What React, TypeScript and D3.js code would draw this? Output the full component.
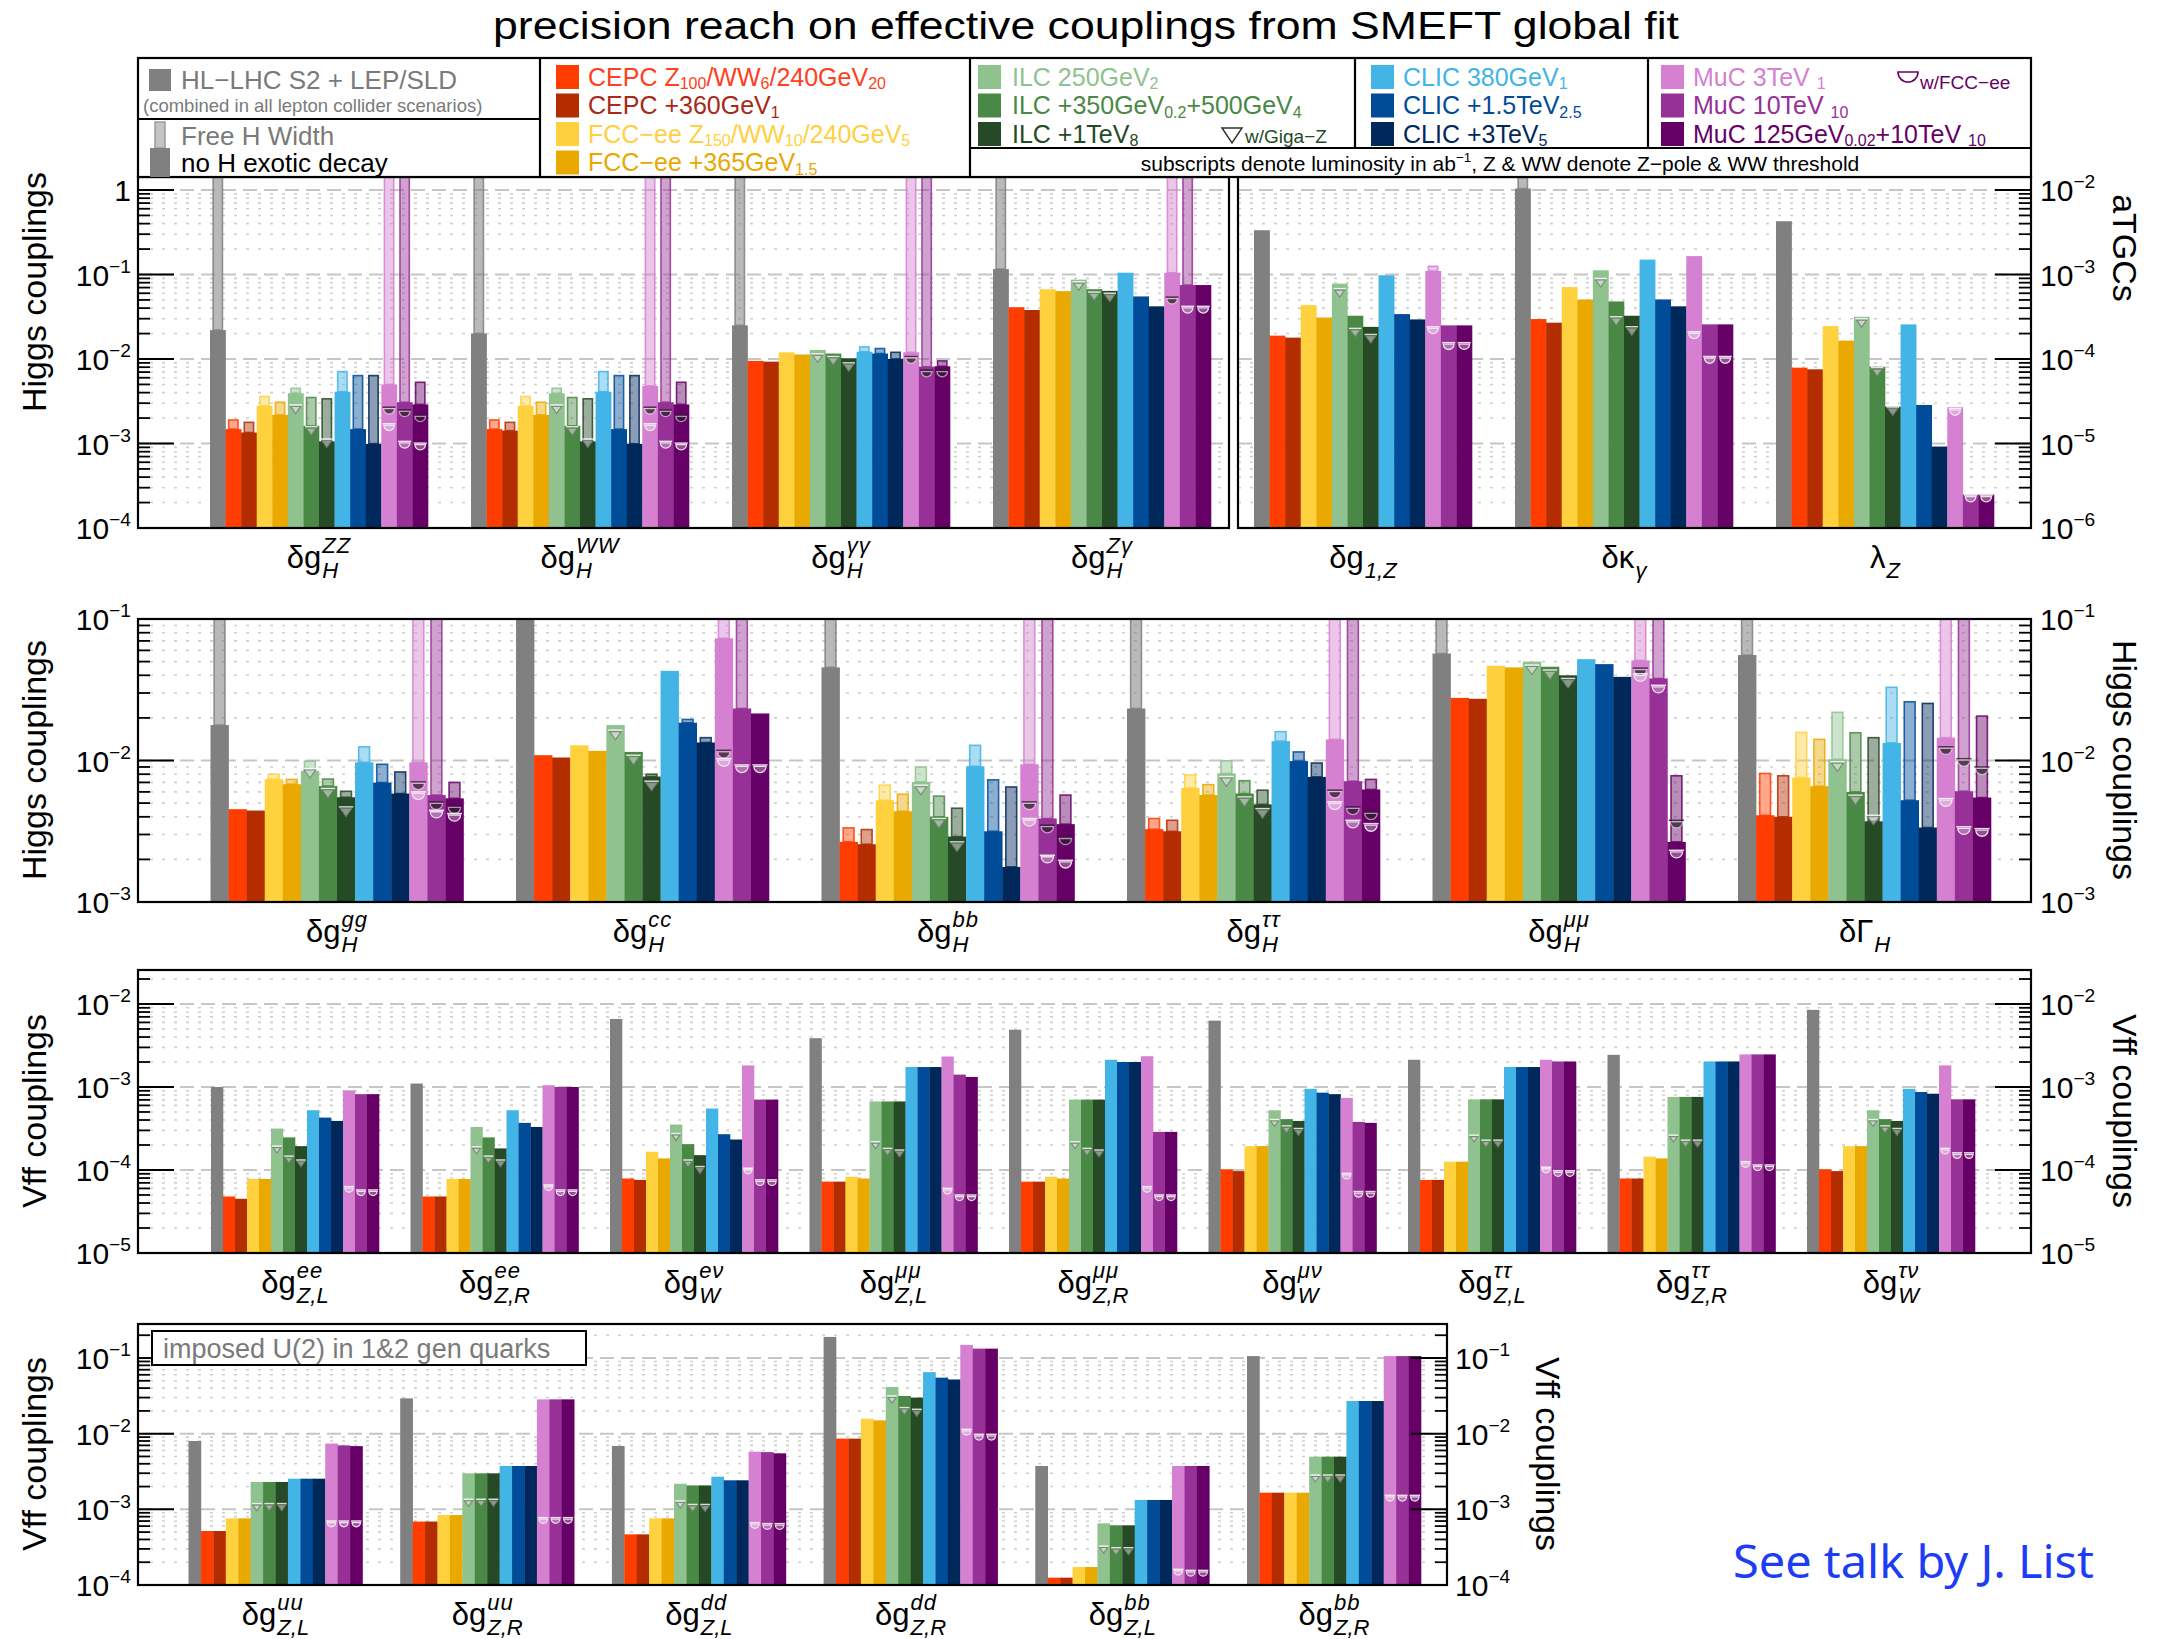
import React, { useEffect, useRef } from 'react';
import * as d3 from 'd3';

const W = 2157;
const H = 1639;
const FONT = "'Liberation Sans', Arial, Helvetica, sans-serif";
const OFF = 10; // free-width bars that run past the top of their panel
const N = null;

// Series order: HL-LHC, CEPC, CEPC+360, FCC-ee, FCC-ee+365, ILC 250, ILC +350/500, ILC +1TeV,
// CLIC 380, CLIC +1.5TeV, CLIC +3TeV, MuC 3TeV, MuC 10TeV, MuC 125GeV+10TeV
const seriesColors = [
  '#808080', '#ff3d00', '#b32d00', '#ffd13f', '#e9a901', '#8fc28f', '#4a8845',
  '#254a25', '#42b4e6', '#004c99', '#00285a', '#d580d0', '#973097', '#670066',
];
const ILC_IDX = [5, 6, 7];
const MUC_IDX = [11, 12, 13];

type Lab = [string, string, string]; // symbol, superscript, subscript

// ---------- Higgs couplings and aTGCs ----------
const p1Labels: Lab[] = [
  ['δg', 'ZZ', 'H'], ['δg', 'WW', 'H'], ['δg', 'γγ', 'H'], ['δg', 'Zγ', 'H'],
  ['δg', '', '1,Z'], ['δκ', '', 'γ'], ['λ', '', 'Z'],
];
const p1Main = [
  [0.022, 1.48e-3, 1.35e-3, 2.79e-3, 2.18e-3, 3.93e-3, 1.62e-3, 1.06e-3, 4.1e-3, 1.48e-3, 9.9e-4, 5.0e-3, 3.08e-3, 2.9e-3],
  [0.0201, 1.48e-3, 1.42e-3, 2.79e-3, 2.18e-3, 3.93e-3, 1.62e-3, 1.06e-3, 4.1e-3, 1.48e-3, 9.9e-4, 4.8e-3, 3.08e-3, 2.9e-3],
  [0.025, 9.5e-3, 9.3e-3, 0.012, 0.0113, 0.0128, 0.0116, 0.0102, 0.0122, 0.0116, 0.0100, 0.012, 0.0081, 0.0082],
  [0.116, 0.041, 0.038, 0.067, 0.0635, 0.087, 0.067, 0.064, 0.105, 0.055, 0.042, 0.105, 0.075, 0.075],
  [3.34e-3, 1.89e-4, 1.79e-4, 4.34e-4, 3.1e-4, 7.8e-4, 3.25e-4, 2.4e-4, 9.8e-4, 3.4e-4, 2.94e-4, 1.1e-3, 2.5e-4, 2.5e-4],
  [1.04e-2, 2.97e-4, 2.69e-4, 7.1e-4, 5.07e-4, 1.12e-3, 4.8e-4, 3.25e-4, 1.5e-3, 5.07e-4, 4.2e-4, 1.65e-3, 2.57e-4, 2.57e-4],
  [4.27e-3, 7.9e-5, 7.55e-5, 2.45e-4, 1.65e-4, 3.16e-4, 8.1e-5, 2.73e-5, 2.57e-4, 2.86e-5, 9.2e-6, 2.69e-5, 2.48e-6, 2.48e-6],
];
const p1Free = [
  [OFF, 1.9e-3, 1.78e-3, 3.6e-3, 3.08e-3, 4.5e-3, 3.5e-3, 3.38e-3, 7.1e-3, 6.36e-3, 6.36e-3, OFF, OFF, 5.3e-3],
  [OFF, 1.9e-3, 1.78e-3, 3.6e-3, 3.08e-3, 4.5e-3, 3.5e-3, 3.38e-3, 7.1e-3, 6.36e-3, 6.36e-3, OFF, OFF, 5.3e-3],
  [OFF, N, N, N, N, N, N, N, 0.0139, 0.0133, 0.012, OFF, OFF, 0.0095],
  [OFF, N, N, N, N, N, N, N, N, N, N, OFF, OFF, N],
  [N, N, N, N, N, N, N, N, N, N, N, 1.25e-3, N, N],
  [OFF, N, N, N, N, N, N, N, N, N, N, N, N, N],
  [N, N, N, N, N, N, N, N, N, N, N, N, N, N],
];
const p1GigaZ = [
  [2.86e-3, 1.58e-3, 1.13e-3], [2.86e-3, 1.58e-3, 1.13e-3], [0.0115, 0.0107, 9.0e-3], [0.082, 0.062, 0.06],
  [6.8e-4, 2.3e-4, 1.95e-4], [8.97e-4, 3.16e-4, 2.41e-4], [3.0e-4, 7.9e-5, 2.7e-5],
];
const p1FccDark = [
  [2.69e-3, 2.5e-3, 2.18e-3], [2.69e-3, 2.5e-3, 2.18e-3], [0.0107, 7.4e-3, 7.4e-3], [0.054, N, N],
  [N, N, N], [N, N, N], [N, N, N],
];
const p1FccLight = [
  [1.71e-3, 1.06e-3, 1.01e-3], [1.71e-3, 1.06e-3, 1.01e-3], [N, N, N], [N, 0.042, 0.042],
  [2.4e-4, 1.56e-4, 1.56e-4], [2.1e-4, 1.07e-4, 1.07e-4], [2.6e-5, 2.45e-6, 2.45e-6],
];

// ---------- Higgs couplings (Yukawa, gluon, width) ----------
const p2Labels: Lab[] = [
  ['δg', 'gg', 'H'], ['δg', 'cc', 'H'], ['δg', 'bb', 'H'], ['δg', 'ττ', 'H'], ['δg', 'μμ', 'H'], ['δΓ', '', 'H'],
];
const p2Main = [
  [0.0178, 4.53e-3, 4.43e-3, 7.38e-3, 6.8e-3, 8.45e-3, 6.6e-3, 5.5e-3, 9.7e-3, 6.98e-3, 5.84e-3, 9.7e-3, 5.7e-3, 5.4e-3],
  [0.105, 0.0109, 0.0105, 0.0128, 0.0117, 0.0178, 0.0115, 7.7e-3, 0.043, 0.0185, 0.0134, 0.073, 0.0233, 0.0215],
  [0.0455, 2.66e-3, 2.56e-3, 5.24e-3, 4.38e-3, 7.06e-3, 4.0e-3, 2.9e-3, 9.1e-3, 3.16e-3, 1.77e-3, 9.4e-3, 3.89e-3, 3.55e-3],
  [0.0233, 3.27e-3, 3.16e-3, 6.4e-3, 5.7e-3, 8.1e-3, 5.84e-3, 4.9e-3, 0.0137, 9.9e-3, 7.66e-3, 0.0141, 7.14e-3, 6.24e-3],
  [0.057, 0.0277, 0.0273, 0.0467, 0.0455, 0.05, 0.046, 0.04, 0.052, 0.048, 0.039, 0.051, 0.038, 2.66e-3],
  [0.0556, 4.1e-3, 4.0e-3, 7.58e-3, 6.58e-3, 0.0102, 6.0e-3, 3.72e-3, 0.0133, 5.24e-3, 3.36e-3, 0.0145, 6.07e-3, 5.47e-3],
];
const p2Free = [
  [OFF, N, N, 8.0e-3, 7.35e-3, 9.9e-3, 7.4e-3, 6.06e-3, 0.0125, 9.4e-3, 8.3e-3, OFF, OFF, 7.0e-3],
  [N, N, N, N, N, N, N, 8.0e-3, N, 0.0195, 0.0145, OFF, OFF, N],
  [OFF, 3.34e-3, 3.25e-3, 6.7e-3, 5.78e-3, 9.0e-3, 5.6e-3, 4.6e-3, 0.0128, 7.3e-3, 6.5e-3, OFF, OFF, 5.7e-3],
  [OFF, 3.89e-3, 3.78e-3, 7.9e-3, 6.75e-3, 9.95e-3, 7.2e-3, 6.17e-3, 0.016, 0.0115, 9.6e-3, OFF, OFF, 7.35e-3],
  [OFF, N, N, N, N, N, N, N, N, N, N, OFF, OFF, 7.8e-3],
  [OFF, 8.1e-3, 7.8e-3, 0.0158, 0.0141, 0.0219, 0.0157, 0.0145, 0.0329, 0.026, 0.0253, OFF, OFF, 0.0206],
];
const p2GigaZ = [
  [8.78e-3, 6.34e-3, 4.7e-3], [0.0164, 0.0109, 7.14e-3], [6.69e-3, 3.89e-3, 2.66e-3],
  [7.7e-3, 5.53e-3, 4.57e-3], [0.0473, 0.0436, 0.038], [9.8e-3, 5.69e-3, 4.1e-3],
];
const p2FccDark = [
  [7.06e-3, 5.1e-3, 4.78e-3], [0.0118, N, N], [5.1e-3, 3.49e-3, 2.88e-3],
  [6.17e-3, 4.7e-3, 4.33e-3], [0.045, N, 3.78e-3], [0.0125, 0.0103, 9.0e-3],
];
const p2FccLight = [
  [6.0e-3, 4.45e-3, 4.22e-3], [0.0103, 9.3e-3, 9.3e-3], [3.89e-3, 2.14e-3, 1.97e-3],
  [5.1e-3, 3.78e-3, 3.58e-3], [0.041, 0.034, 2.32e-3], [5.38e-3, 3.4e-3, 3.3e-3],
];

// ---------- lepton Vff couplings ----------
const p3Labels: Lab[] = [
  ['δg', 'ee', 'Z,L'], ['δg', 'ee', 'Z,R'], ['δg', 'eν', 'W'], ['δg', 'μμ', 'Z,L'], ['δg', 'μμ', 'Z,R'],
  ['δg', 'μν', 'W'], ['δg', 'ττ', 'Z,L'], ['δg', 'ττ', 'Z,R'], ['δg', 'τν', 'W'],
];
const p3Main = [
  [1.0e-3, 4.8e-5, 4.5e-5, 7.8e-5, 7.8e-5, 3.16e-4, 2.47e-4, 1.94e-4, 5.25e-4, 4.28e-4, 3.9e-4, 9.1e-4, 8.2e-4, 8.2e-4],
  [1.1e-3, 4.8e-5, 4.8e-5, 7.8e-5, 7.8e-5, 3.3e-4, 2.47e-4, 1.82e-4, 5.25e-4, 3.7e-4, 3.3e-4, 1.05e-3, 1.0e-3, 1.0e-3],
  [6.6e-3, 7.9e-5, 7.6e-5, 1.66e-4, 1.38e-4, 3.53e-4, 2.05e-4, 1.51e-4, 5.5e-4, 2.7e-4, 2.33e-4, 1.82e-3, 7.05e-4, 7.05e-4],
  [3.87e-3, 7.24e-5, 7.24e-5, 8.3e-5, 7.9e-5, 6.7e-4, 6.7e-4, 6.7e-4, 1.74e-3, 1.74e-3, 1.74e-3, 2.33e-3, 1.41e-3, 1.32e-3],
  [4.9e-3, 7.24e-5, 7.24e-5, 8.3e-5, 7.9e-5, 7.05e-4, 7.05e-4, 7.05e-4, 2.13e-3, 2.0e-3, 2.0e-3, 2.35e-3, 2.88e-4, 2.88e-4],
  [6.3e-3, 1.02e-4, 9.7e-5, 1.94e-4, 1.94e-4, 5.25e-4, 4.1e-4, 3.9e-4, 9.5e-4, 8.55e-4, 8.2e-4, 7.4e-4, 3.8e-4, 3.7e-4],
  [2.13e-3, 7.6e-5, 7.6e-5, 1.26e-4, 1.26e-4, 7.1e-4, 7.1e-4, 7.1e-4, 1.74e-3, 1.74e-3, 1.74e-3, 2.13e-3, 2.03e-3, 2.03e-3],
  [2.44e-3, 7.9e-5, 7.9e-5, 1.45e-4, 1.38e-4, 7.6e-4, 7.6e-4, 7.6e-4, 2.03e-3, 2.03e-3, 2.03e-3, 2.47e-3, 2.47e-3, 2.47e-3],
  [8.5e-3, 1.02e-4, 9.7e-5, 1.94e-4, 1.94e-4, 5.25e-4, 4.1e-4, 3.9e-4, 9.5e-4, 8.7e-4, 8.3e-4, 1.82e-3, 7.1e-4, 7.1e-4],
];
const p3GigaZ = [
  [1.94e-4, 1.47e-4, 1.32e-4], [1.9e-4, 1.47e-4, 1.32e-4], [2.75e-4, 1.32e-4, 1.1e-4],
  [2.19e-4, 1.82e-4, 1.74e-4], [2.19e-4, 1.82e-4, 1.74e-4], [4.06e-4, 3.4e-4, 3.16e-4],
  [2.63e-4, 2.29e-4, 2.29e-4], [2.63e-4, 2.29e-4, 2.29e-4], [4.06e-4, 3.4e-4, 3.16e-4],
];
const p3Fcc = [
  [6.3e-5, 5.75e-5, 5.75e-5], [6.6e-5, 5.75e-5, 5.75e-5], [1.05e-4, 7.6e-5, 7.6e-5],
  [6.0e-5, 5.0e-5, 5.0e-5], [6.3e-5, 5.0e-5, 5.0e-5], [9.1e-5, 5.5e-5, 5.5e-5],
  [1.08e-4, 9.8e-5, 9.8e-5], [1.26e-4, 1.15e-4, 1.15e-4], [1.82e-4, 1.61e-4, 1.61e-4],
];

// ---------- quark Vff couplings ----------
const p4Labels: Lab[] = [
  ['δg', 'uu', 'Z,L'], ['δg', 'uu', 'Z,R'], ['δg', 'dd', 'Z,L'], ['δg', 'dd', 'Z,R'], ['δg', 'bb', 'Z,L'], ['δg', 'bb', 'Z,R'],
];
const p4Main = [
  [8.0e-3, 5.17e-4, 5.17e-4, 7.6e-4, 7.6e-4, 2.3e-3, 2.3e-3, 2.3e-3, 2.54e-3, 2.54e-3, 2.54e-3, 7.4e-3, 7.0e-3, 6.85e-3],
  [2.93e-2, 6.9e-4, 6.9e-4, 8.4e-4, 8.4e-4, 2.99e-3, 2.99e-3, 2.99e-3, 3.74e-3, 3.74e-3, 3.74e-3, 2.84e-2, 2.84e-2, 2.84e-2],
  [6.87e-3, 4.67e-4, 4.67e-4, 7.6e-4, 7.6e-4, 2.18e-3, 2.07e-3, 2.07e-3, 2.7e-3, 2.42e-3, 2.42e-3, 5.78e-3, 5.7e-3, 5.5e-3],
  [0.19, 8.6e-3, 8.6e-3, 0.0158, 0.015, 0.0414, 0.0315, 0.03, 0.065, 0.055, 0.052, 0.149, 0.133, 0.133],
  [3.74e-3, 1.25e-4, 1.25e-4, 1.73e-4, 1.73e-4, 6.53e-4, 6.15e-4, 6.15e-4, 1.33e-3, 1.33e-3, 1.33e-3, 3.74e-3, 3.74e-3, 3.74e-3],
  [0.106, 1.66e-3, 1.66e-3, 1.66e-3, 1.66e-3, 4.97e-3, 4.97e-3, 4.97e-3, 2.7e-2, 2.7e-2, 2.7e-2, 0.106, 0.106, 0.106],
];
const p4GigaZ = [
  [1.19e-3, 1.19e-3, 1.19e-3], [1.36e-3, 1.36e-3, 1.36e-3], [1.29e-3, 1.16e-3, 1.16e-3],
  [0.0315, 0.0221, 0.021], [3.27e-4, 3.11e-4, 3.11e-4], [2.84e-3, 2.84e-3, 2.84e-3],
];
const p4Fcc = [
  [7.0e-4, 7.0e-4, 7.0e-4], [7.76e-4, 7.76e-4, 7.76e-4], [6.67e-4, 6.47e-4, 6.47e-4],
  [0.0114, 9.8e-3, 9.8e-3], [1.61e-4, 1.56e-4, 1.56e-4], [1.53e-3, 1.53e-3, 1.53e-3],
];

// ---------- legend text ----------
type Seg = [string, '' | 'sub' | 'sup'];
const legendCepcFcc: Seg[][] = [
  [['CEPC Z', ''], ['100', 'sub'], ['/WW', ''], ['6', 'sub'], ['/240GeV', ''], ['20', 'sub']],
  [['CEPC +360GeV', ''], ['1', 'sub']],
  [['FCC−ee Z', ''], ['150', 'sub'], ['/WW', ''], ['10', 'sub'], ['/240GeV', ''], ['5', 'sub']],
  [['FCC−ee +365GeV', ''], ['1.5', 'sub']],
];
const legendCepcFccText = ['#ff4020', '#a8281a', '#ffd040', '#e8a800'];
const legendIlc: Seg[][] = [
  [['ILC 250GeV', ''], ['2', 'sub']],
  [['ILC +350GeV', ''], ['0.2', 'sub'], ['+500GeV', ''], ['4', 'sub']],
  [['ILC +1TeV', ''], ['8', 'sub']],
];
const legendClic: Seg[][] = [
  [['CLIC 380GeV', ''], ['1', 'sub']],
  [['CLIC +1.5TeV', ''], ['2.5', 'sub']],
  [['CLIC +3TeV', ''], ['5', 'sub']],
];
const legendMuc: Seg[][] = [
  [['MuC 3TeV ', ''], ['1', 'sub']],
  [['MuC 10TeV ', ''], ['10', 'sub']],
  [['MuC 125GeV', ''], ['0.02', 'sub'], ['+10TeV ', ''], ['10', 'sub']],
];

type Sel = d3.Selection<any, any, any, any>;

function rich(sel: Sel, x: number, y: number, segs: Seg[], size: number, fill: string, anchor = 'start', subDrop = 0.28) {
  const t = sel.append('text').attr('x', x).attr('y', y).attr('font-size', size)
    .attr('fill', fill).attr('text-anchor', anchor);
  let cur = 0;
  for (const [s, k] of segs) {
    const off = k === 'sub' ? size * subDrop : k === 'sup' ? -size * 0.42 : 0;
    const ts = t.append('tspan').attr('dy', off - cur).text(s);
    if (k) ts.attr('font-size', size * 0.64);
    cur = off;
  }
  return t;
}

function expLabel(e: number): Seg[] {
  if (e === 0) return [['1', '']];
  return [['10', ''], [(e < 0 ? '−' : '') + Math.abs(e), 'sup']];
}

function logValues(lo: number, hi: number) {
  const major: number[] = [];
  const minor: number[] = [];
  for (let e = Math.floor(Math.log10(lo)) - 1; e <= Math.ceil(Math.log10(hi)); e++) {
    for (let k = 1; k < 10; k++) {
      const v = k * Math.pow(10, e);
      if (v < lo * 0.999 || v > hi * 1.001) continue;
      (k === 1 ? major : minor).push(v);
    }
  }
  return { major, minor };
}

function gigaMark(g: Sel, cx: number, yv: number, w: number) {
  const hw = w * 0.32;
  const h = w * 0.45;
  g.append('line').attr('x1', cx - w * 0.4).attr('x2', cx + w * 0.4).attr('y1', yv).attr('y2', yv)
    .attr('stroke', 'rgba(255,255,255,0.8)').attr('stroke-width', 1.5);
  g.append('path').attr('d', `M${cx - hw},${yv + 1.5}L${cx + hw},${yv + 1.5}L${cx},${yv + 1.5 + h}Z`)
    .attr('fill', 'rgba(255,255,255,0.45)').attr('stroke', 'rgba(120,120,120,0.85)').attr('stroke-width', 1.1);
}

function fccMark(g: Sel, cx: number, yv: number, w: number, dark: boolean) {
  const r = w * 0.34;
  g.append('line').attr('x1', cx - w * 0.42).attr('x2', cx + w * 0.42).attr('y1', yv).attr('y2', yv)
    .attr('stroke', dark ? 'rgba(40,30,40,0.8)' : 'rgba(255,255,255,0.85)').attr('stroke-width', 1.5);
  g.append('path').attr('d', `M${cx - r},${yv + 1.5}A${r},${r} 0 0 0 ${cx + r},${yv + 1.5}Z`)
    .attr('fill', dark ? 'rgba(45,30,45,0.75)' : 'rgba(255,255,255,0.3)')
    .attr('stroke', dark ? 'rgba(255,255,255,0.55)' : 'rgba(235,235,235,0.95)').attr('stroke-width', 1.3);
}

function groupLabel(g: Sel, cx: number, bottom: number, lab: Lab) {
  const [sym, sup, sub] = lab;
  const base = bottom + 40;
  const m = g.append('text').attr('y', base).attr('font-size', 31).text(sym);
  const mw = (m.node() as SVGTextElement).getComputedTextLength();
  let sw = 0;
  let bw = 0;
  let sp: Sel | null = null;
  let sb: Sel | null = null;
  if (sup) {
    sp = g.append('text').attr('y', base - 15).attr('font-size', 22).attr('font-style', 'italic')
      .attr('letter-spacing', 1).text(sup);
    sw = (sp.node() as SVGTextElement).getComputedTextLength();
  }
  if (sub) {
    sb = g.append('text').attr('y', base + 10).attr('font-size', 22).attr('font-style', 'italic').text(sub);
    bw = (sb.node() as SVGTextElement).getComputedTextLength();
  }
  const total = mw + 1 + Math.max(sw, bw);
  const x0 = cx - total / 2;
  m.attr('x', x0);
  if (sp) sp.attr('x', x0 + mw + 1);
  if (sb) sb.attr('x', x0 + mw + 1);
}

interface Box { x0: number; x1: number; y: d3.ScaleLogarithmic<number, number>; }
interface PanelOpt {
  id: string;
  top: number;
  bottom: number;
  boxes: Box[];
  boxOf: (gi: number) => number;
  labels: Lab[];
  main: number[][];
  free?: (number | null)[][];
  giga: (number | null)[][];
  fccDark?: (number | null)[][];
  fccLight: (number | null)[][];
  range: [number, number];
  band: number;
  leftBox: number;
  rightBox: number;
  rightLabelX: number;
}

function drawPanel(svg: Sel, o: PanelOpt) {
  const g = svg.append('g');
  const defs = svg.select('defs');
  const n = o.labels.length;

  // clip paths, grids
  o.boxes.forEach((b, bi) => {
    defs.append('clipPath').attr('id', `${o.id}-clip${bi}`).append('rect')
      .attr('x', b.x0).attr('y', o.top).attr('width', b.x1 - b.x0).attr('height', o.bottom - o.top);
    const lo = b.y.invert(o.bottom);
    const hi = b.y.invert(o.top);
    const { major, minor } = logValues(lo, hi);
    const gg = g.append('g');
    minor.forEach((v) => {
      gg.append('line').attr('x1', b.x0).attr('x2', b.x1).attr('y1', b.y(v)).attr('y2', b.y(v))
        .attr('stroke', '#cfcfcf').attr('stroke-width', 1.6).attr('stroke-dasharray', '3,9');
    });
    major.forEach((v) => {
      gg.append('line').attr('x1', b.x0).attr('x2', b.x1).attr('y1', b.y(v)).attr('y2', b.y(v))
        .attr('stroke', '#c6c6c6').attr('stroke-width', 2).attr('stroke-dasharray', '14,7');
    });
  });

  const step = (o.range[1] - o.range[0]) / n;
  const pad = 1 - o.band / step;
  const x = d3.scaleBand<number>().domain(d3.range(n)).range(o.range).paddingInner(pad).paddingOuter(pad / 2);
  const inner = d3.scaleBand<number>().domain(d3.range(14)).range([0, x.bandwidth()]);
  const bw = inner.bandwidth();

  for (let gi = 0; gi < n; gi++) {
    const bi = o.boxOf(gi);
    const y = o.boxes[bi].y;
    const bars = g.append('g').attr('clip-path', `url(#${o.id}-clip${bi})`);
    const gx = x(gi) as number;
    for (let si = 0; si < 14; si++) {
      const v = o.main[gi][si];
      const fv = o.free ? o.free[gi][si] : null;
      const bx = gx + (inner(si) as number);
      const col = seriesColors[si];
      if (fv != null && fv > v) {
        const ew = bw * 0.6;
        bars.append('rect').attr('x', bx + (bw - ew) / 2).attr('y', y(fv)).attr('width', ew)
          .attr('height', Math.max(0, y(v) - y(fv)))
          .attr('fill', col).attr('fill-opacity', si === 0 ? 0.55 : 0.45)
          .attr('stroke', col).attr('stroke-opacity', 0.85).attr('stroke-width', 1.6);
      }
      bars.append('rect').attr('x', bx).attr('y', y(v)).attr('width', bw + 0.3)
        .attr('height', o.bottom - y(v)).attr('fill', col);
    }
    const cxOf = (si: number) => gx + (inner(si) as number) + bw / 2;
    ILC_IDX.forEach((si, k) => {
      const mv = o.giga[gi][k];
      if (mv != null) gigaMark(bars, cxOf(si), y(mv), bw);
    });
    MUC_IDX.forEach((si, k) => {
      const dv = o.fccDark ? o.fccDark[gi][k] : null;
      if (dv != null) fccMark(bars, cxOf(si), y(dv), bw, true);
      const lv = o.fccLight[gi][k];
      if (lv != null) fccMark(bars, cxOf(si), y(lv), bw, false);
    });
    groupLabel(g, gx + x.bandwidth() / 2, o.bottom, o.labels[gi]);
  }

  // frames
  o.boxes.forEach((b) => {
    g.append('rect').attr('x', b.x0).attr('y', o.top).attr('width', b.x1 - b.x0).attr('height', o.bottom - o.top)
      .attr('fill', 'none').attr('stroke', '#000').attr('stroke-width', 2.2);
  });

  // axes
  const axis = (b: Box, side: 'left' | 'right') => {
    const xf = side === 'left' ? b.x0 : b.x1;
    const dir = side === 'left' ? 1 : -1;
    const { major, minor } = logValues(b.y.invert(o.bottom), b.y.invert(o.top));
    minor.forEach((v) => {
      g.append('line').attr('x1', xf).attr('x2', xf + dir * 12).attr('y1', b.y(v)).attr('y2', b.y(v))
        .attr('stroke', '#000').attr('stroke-width', 1.8);
    });
    major.forEach((v) => {
      g.append('line').attr('x1', xf).attr('x2', xf + dir * 36).attr('y1', b.y(v)).attr('y2', b.y(v))
        .attr('stroke', '#000').attr('stroke-width', 2);
      const e = Math.round(Math.log10(v));
      if (side === 'left') rich(g, 131, b.y(v) + 11, expLabel(e), 30, '#000', 'end');
      else rich(g, o.rightLabelX, b.y(v) + 11, expLabel(e), 30, '#000', 'start');
    });
  };
  axis(o.boxes[o.leftBox], 'left');
  axis(o.boxes[o.rightBox], 'right');
}

function drawLegend(svg: Sel) {
  const g = svg.append('g');
  const top = 58;
  const bot = 177;
  const rows = [77, 105.5, 134, 162.5];
  const base = (r: number) => rows[r] + 8.5;
  const LS = 25;
  g.append('rect').attr('x', 138).attr('y', top).attr('width', 2031 - 138).attr('height', bot - top)
    .attr('fill', '#fff').attr('stroke', '#000').attr('stroke-width', 2.2);
  [540, 970].forEach((xv) => g.append('line').attr('x1', xv).attr('x2', xv).attr('y1', top).attr('y2', bot)
    .attr('stroke', '#000').attr('stroke-width', 2.2));
  [1355, 1648].forEach((xv) => g.append('line').attr('x1', xv).attr('x2', xv).attr('y1', top).attr('y2', 148)
    .attr('stroke', '#000').attr('stroke-width', 2.2));
  g.append('line').attr('x1', 138).attr('x2', 540).attr('y1', 119).attr('y2', 119).attr('stroke', '#000').attr('stroke-width', 2.2);
  g.append('line').attr('x1', 970).attr('x2', 2031).attr('y1', 148).attr('y2', 148).attr('stroke', '#000').attr('stroke-width', 2.2);

  // HL-LHC block
  g.append('rect').attr('x', 149).attr('y', 69).attr('width', 22).attr('height', 22).attr('fill', seriesColors[0]);
  g.append('text').attr('x', 181).attr('y', 89).attr('font-size', 26).attr('fill', '#7a7a7a').text('HL−LHC S2 + LEP/SLD');
  g.append('text').attr('x', 143).attr('y', 112).attr('font-size', 18.5).attr('fill', '#7a7a7a')
    .text('(combined in all lepton collider scenarios)');
  g.append('rect').attr('x', 155).attr('y', 122).attr('width', 10).attr('height', 26)
    .attr('fill', '#c4c4c4').attr('stroke', '#9a9a9a').attr('stroke-width', 1.5);
  g.append('rect').attr('x', 150).attr('y', 148).attr('width', 20).attr('height', 29).attr('fill', seriesColors[0]);
  g.append('text').attr('x', 181).attr('y', 145).attr('font-size', 26).attr('fill', '#7a7a7a').text('Free H Width');
  g.append('text').attr('x', 181).attr('y', 172).attr('font-size', 26).attr('fill', '#000').text('no H exotic decay');

  const block = (sx: number, tx: number, entries: Seg[][], idx: number[], txtCols: string[]) => {
    entries.forEach((segs, r) => {
      g.append('rect').attr('x', sx).attr('y', rows[r] - 12).attr('width', 23).attr('height', 24).attr('fill', seriesColors[idx[r]]);
      rich(g, tx, base(r), segs, LS, txtCols[r], 'start', 0.15);
    });
  };
  block(556, 588, legendCepcFcc, [1, 2, 3, 4], legendCepcFccText);
  block(978, 1012, legendIlc, [5, 6, 7], [seriesColors[5], seriesColors[6], seriesColors[7]]);
  block(1371, 1403, legendClic, [8, 9, 10], [seriesColors[8], seriesColors[9], seriesColors[10]]);
  block(1661, 1693, legendMuc, [11, 12, 13], [seriesColors[11], seriesColors[12], seriesColors[13]]);

  // marker keys
  g.append('path').attr('d', 'M1222,128L1242,128L1232,143Z').attr('fill', 'none').attr('stroke', '#333').attr('stroke-width', 1.5);
  g.append('text').attr('x', 1245).attr('y', 143).attr('font-size', 19).attr('fill', '#254a25').text('w/Giga−Z');
  g.append('path').attr('d', 'M1898,72L1918,72A10,10 0 0 1 1898,72Z').attr('fill', 'none').attr('stroke', '#670066').attr('stroke-width', 1.6);
  g.append('text').attr('x', 1920).attr('y', 89).attr('font-size', 19).attr('fill', '#670066').text('w/FCC−ee');

  rich(g, 1500, 171, [['subscripts denote luminosity in ab', ''], ['−1', 'sup'], [',  Z & WW denote Z−pole & WW threshold', '']], 21, '#000', 'middle');
}

function draw(svg: Sel) {
  svg.append('defs');
  svg.append('rect').attr('width', W).attr('height', H).attr('fill', '#fff');

  svg.append('text').attr('x', 1086).attr('y', 39).attr('text-anchor', 'middle').attr('font-size', 38)
    .attr('textLength', 1186).attr('lengthAdjust', 'spacingAndGlyphs')
    .text('precision reach on effective couplings from SMEFT global fit');

  // Panel 1: Higgs couplings (left scale) and aTGCs (right scale)
  const y1 = d3.scaleLog().domain([1e-4, 1]).range([528, 190]);
  const y1r = d3.scaleLog().domain([1e-6, 1e-2]).range([528, 190]);
  drawPanel(svg, {
    id: 'p1', top: 177, bottom: 528,
    boxes: [{ x0: 138, x1: 1229, y: y1 }, { x0: 1238, x1: 2031, y: y1r }],
    boxOf: (gi) => (gi < 4 ? 0 : 1),
    labels: p1Labels, main: p1Main, free: p1Free, giga: p1GigaZ, fccDark: p1FccDark, fccLight: p1FccLight,
    range: [188.5, 188.5 + 7 * 261], band: 218, leftBox: 0, rightBox: 1, rightLabelX: 2040,
  });

  // Panel 2
  const y2 = d3.scaleLog().domain([1e-3, 1e-1]).range([902, 619]);
  drawPanel(svg, {
    id: 'p2', top: 619, bottom: 902,
    boxes: [{ x0: 138, x1: 2031, y: y2 }], boxOf: () => 0,
    labels: p2Labels, main: p2Main, free: p2Free, giga: p2GigaZ, fccDark: p2FccDark, fccLight: p2FccLight,
    range: [337 - 152.75, 337 - 152.75 + 6 * 305.5], band: 253, leftBox: 0, rightBox: 0, rightLabelX: 2040,
  });

  // Panel 3
  const y3 = d3.scaleLog().domain([1e-5, 1e-2]).range([1253, 1004]);
  drawPanel(svg, {
    id: 'p3', top: 970, bottom: 1253,
    boxes: [{ x0: 138, x1: 2031, y: y3 }], boxOf: () => 0,
    labels: p3Labels, main: p3Main, giga: p3GigaZ, fccLight: p3Fcc,
    range: [295 - 99.75, 295 - 99.75 + 9 * 199.5], band: 168, leftBox: 0, rightBox: 0, rightLabelX: 2040,
  });

  // Panel 4
  const y4 = d3.scaleLog().domain([1e-4, 1e-1]).range([1585, 1358]);
  drawPanel(svg, {
    id: 'p4', top: 1324, bottom: 1585,
    boxes: [{ x0: 138, x1: 1447, y: y4 }], boxOf: () => 0,
    labels: p4Labels, main: p4Main, giga: p4GigaZ, fccLight: p4Fcc,
    range: [275.5 - 105.85, 275.5 - 105.85 + 6 * 211.7], band: 174, leftBox: 0, rightBox: 0, rightLabelX: 1455,
  });

  // note box in the quark panel
  svg.append('rect').attr('x', 152).attr('y', 1331).attr('width', 434).attr('height', 34)
    .attr('fill', '#fff').attr('stroke', '#000').attr('stroke-width', 2);
  svg.append('text').attr('x', 163).attr('y', 1358).attr('font-size', 27).attr('fill', '#7a7a7a')
    .text('imposed U(2) in 1&2 gen quarks');

  drawLegend(svg);

  // axis titles
  const vtitle = (x: number, y: number, s: string, rot: number) => {
    svg.append('text').attr('transform', `translate(${x},${y}) rotate(${rot})`).attr('text-anchor', 'middle')
      .attr('dominant-baseline', 'central').attr('font-size', 34).text(s);
  };
  vtitle(34, 292, 'Higgs couplings', -90);
  vtitle(34, 760, 'Higgs couplings', -90);
  vtitle(34, 1111, 'Vff couplings', -90);
  vtitle(34, 1454, 'Vff couplings', -90);
  vtitle(2125, 248, 'aTGCs', 90);
  vtitle(2125, 760, 'Higgs couplings', 90);
  vtitle(2125, 1111, 'Vff couplings', 90);
  vtitle(1548, 1454, 'Vff couplings', 90);

  svg.append('text').attr('x', 1733).attr('y', 1578).attr('font-family', "'Noto Sans', 'Open Sans', sans-serif")
    .attr('font-size', 46).attr('fill', '#1c3df5').attr('textLength', 361).attr('lengthAdjust', 'spacingAndGlyphs')
    .text('See talk by J. List');
}

export default function App() {
  const ref = useRef<SVGSVGElement>(null);
  useEffect(() => {
    document.body.style.margin = '0';
    const svg = d3.select(ref.current);
    svg.selectAll('*').remove();
    draw(svg as unknown as Sel);
  }, []);
  return (
    <svg ref={ref} width={W} height={H} style={{ display: 'block' }} fontFamily={FONT} />
  );
}
